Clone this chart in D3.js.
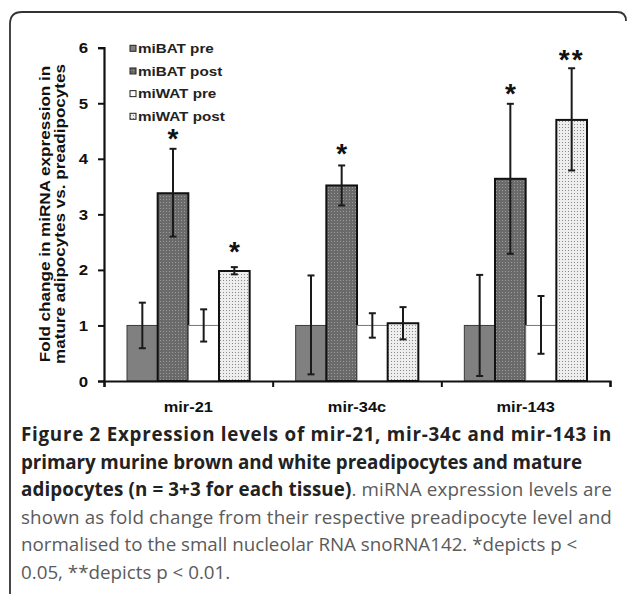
<!DOCTYPE html>
<html>
<head>
<meta charset="utf-8">
<script src="https://cdn.jsdelivr.net/npm/d3@7"></script>
<style>
  html, body { margin: 0; padding: 0; background: #fff; }
  svg { display: block; }
</style>
</head>
<body>
<svg id="chart" width="627" height="594"></svg>
<script>
// ---------------- data ----------------
const categories = ["mir-21", "mir-34c", "mir-143"];
const seriesNames = ["miBAT pre", "miBAT post", "miWAT pre", "miWAT post"];

const batPre     = [1.00, 1.00, 1.00];
const batPreLo   = [0.59, 0.12, 0.09];
const batPreHi   = [1.41, 1.90, 1.91];

const batPost    = [3.38, 3.52, 3.64];
const batPostLo  = [2.60, 3.16, 2.29];
const batPostHi  = [4.18, 3.88, 4.99];

const watPre     = [1.00, 1.00, 1.00];
const watPreLo   = [0.71, 0.78, 0.49];
const watPreHi   = [1.29, 1.22, 1.53];

const watPost    = [1.98, 1.04, 4.70];
const watPostLo  = [1.92, 0.75, 3.79];
const watPostHi  = [2.05, 1.33, 5.63];

// significance markers (per category, per series) and their heights in data units
const sigMarks  = [["", "*", "", "*"], ["", "*", "", ""], ["", "*", "", "**"]];
const sigLevels = [[0, 4.43, 0, 2.39], [0, 4.16, 0, 0], [0, 5.24, 0, 5.85]];

const yTicks = [0, 1, 2, 3, 4, 5, 6];
const yLabelLines = ["Fold change in miRNA expression in", "mature adipocytes vs. preadipocytes"];

const captionLines = [
  [{t: "Figure 2 Expression levels of mir-21, mir-34c and mir-143 in", b: true}],
  [{t: "primary murine brown and white preadipocytes and mature", b: true}],
  [{t: "adipocytes (n = 3+3 for each tissue)", b: true}, {t: ". miRNA expression levels are", b: false}],
  [{t: "shown as fold change from their respective preadipocyte level and", b: false}],
  [{t: "normalised to the small nucleolar RNA snoRNA142. *depicts p <", b: false}],
  [{t: "0.05, **depicts p < 0.01.", b: false}]
];

// ---------------- setup ----------------
const svg = d3.select("#chart");
const seriesVals = [batPre, batPost, watPre, watPost];
const seriesLo = [batPreLo, batPostLo, watPreLo, watPostLo];
const seriesHi = [batPreHi, batPostHi, watPreHi, watPostHi];

const rows = [];
categories.forEach((c, ci) => {
  seriesNames.forEach((s, si) => {
    rows.push({cat: c, ci, ser: s, si, v: seriesVals[si][ci], lo: seriesLo[si][ci], hi: seriesHi[si][ci],
               mark: sigMarks[ci][si], level: sigLevels[ci][si]});
  });
});

const plotL = 104, plotR = 610, plotT = 47.7, plotB = 381;
const x = d3.scaleBand().domain(categories).range([plotL, plotR]).padding(0);
const xs = d3.scaleBand().domain(seriesNames).range([23, x.bandwidth() - 23]).padding(0);
const xEdge = d3.scaleLinear().domain([0, categories.length]).range([plotL, plotR]);
const y = d3.scaleLinear().domain([0, 6]).range([plotB, plotT]);

const FONT = "'Liberation Sans', Arial, Helvetica, sans-serif";
function stretch(sel, k) {
  sel.each(function() {
    const w = this.getComputedTextLength();
    d3.select(this).attr("textLength", w * k).attr("lengthAdjust", "spacingAndGlyphs");
  });
}

// patterns
const defs = svg.append("defs");
const pDark = defs.append("pattern").attr("id", "pDark").attr("patternUnits", "userSpaceOnUse")
  .attr("width", 3).attr("height", 3);
pDark.append("rect").attr("width", 3).attr("height", 3).attr("fill", "#6a6a6a");
pDark.append("rect").attr("x", 1).attr("y", 1).attr("width", 1).attr("height", 1).attr("fill", "#9a9a9a");
const pLight = defs.append("pattern").attr("id", "pLight").attr("patternUnits", "userSpaceOnUse")
  .attr("width", 3).attr("height", 3);
pLight.append("rect").attr("width", 3).attr("height", 3).attr("fill", "#eeeeee");
pLight.append("rect").attr("x", 1).attr("y", 1).attr("width", 1).attr("height", 1).attr("fill", "#8a8a8a");

const fills = ["#808080", "url(#pDark)", "#ffffff", "url(#pLight)"];
const strokes = ["#3a3a3a", "#111111", "#777777", "#111111"];
const strokeW = [1, 2, 1, 2];

// frame (rounded top corners, open at bottom)
svg.append("path")
  .attr("d", "M10,594 L10,24 Q10,12 22,12 L617,12 Q626,12 626,21")
  .attr("fill", "none").attr("stroke", "#333333").attr("stroke-width", 1.8);

// bars
const g = svg.append("g");
g.selectAll("rect.bar").data(rows).enter().append("rect")
  .attr("class", "bar")
  .attr("x", d => x(d.cat) + xs(d.ser))
  .attr("y", d => y(d.v))
  .attr("width", xs.bandwidth())
  .attr("height", d => y(0) - y(d.v))
  .attr("fill", d => fills[d.si])
  .attr("stroke", d => strokes[d.si])
  .attr("stroke-width", d => strokeW[d.si]);

// error bars
const cap = 3.5;
const eb = g.selectAll("g.err").data(rows).enter().append("g").attr("class", "err")
  .attr("stroke", "#1a1a1a").attr("stroke-width", 2);
eb.append("line")
  .attr("x1", d => x(d.cat) + xs(d.ser) + xs.bandwidth() / 2)
  .attr("x2", d => x(d.cat) + xs(d.ser) + xs.bandwidth() / 2)
  .attr("y1", d => y(d.lo)).attr("y2", d => y(d.hi));
eb.append("line")
  .attr("x1", d => x(d.cat) + xs(d.ser) + xs.bandwidth() / 2 - cap)
  .attr("x2", d => x(d.cat) + xs(d.ser) + xs.bandwidth() / 2 + cap)
  .attr("y1", d => y(d.hi)).attr("y2", d => y(d.hi));
eb.append("line")
  .attr("x1", d => x(d.cat) + xs(d.ser) + xs.bandwidth() / 2 - cap)
  .attr("x2", d => x(d.cat) + xs(d.ser) + xs.bandwidth() / 2 + cap)
  .attr("y1", d => y(d.lo)).attr("y2", d => y(d.lo));

// significance stars
g.selectAll("text.sig").data(rows.filter(d => d.mark)).enter().append("text")
  .attr("class", "sig")
  .attr("x", d => x(d.cat) + xs(d.ser) + xs.bandwidth() / 2)
  .attr("y", d => y(d.level) + 13)
  .attr("text-anchor", "middle")
  .attr("font-family", FONT).attr("font-weight", "bold").attr("font-size", 28)
  .attr("letter-spacing", d => d.mark.length > 1 ? 2 : 0)
  .attr("fill", "#111")
  .text(d => d.mark);

// y axis
const yAxis = svg.append("g").attr("transform", `translate(${plotL},0)`)
  .call(d3.axisLeft(y).tickValues(yTicks).tickSize(6).tickPadding(10).tickFormat(d3.format("d")));
yAxis.select(".domain").attr("stroke", "#111").attr("stroke-width", 2.2);
yAxis.selectAll(".tick line").attr("stroke", "#111").attr("stroke-width", 2);
yAxis.selectAll(".tick text").attr("font-family", FONT).attr("font-weight", "bold")
  .attr("font-size", 14).attr("fill", "#111").attr("dy", "0.36em").call(stretch, 1.2);

// x axis (ticks at category boundaries)
const xAxis = svg.append("g").attr("transform", `translate(0,${plotB})`)
  .call(d3.axisBottom(xEdge).tickValues(d3.range(categories.length + 1)).tickSize(6).tickFormat(""));
xAxis.select(".domain").attr("stroke", "#111").attr("stroke-width", 2.2);
xAxis.selectAll(".tick line").attr("stroke", "#111").attr("stroke-width", 2);

// category labels
svg.selectAll("text.cat").data(categories).enter().append("text")
  .attr("class", "cat")
  .attr("x", d => x(d) + x.bandwidth() / 2)
  .attr("y", 412)
  .attr("text-anchor", "middle")
  .attr("font-family", FONT).attr("font-weight", "bold").attr("font-size", 14)
  .attr("fill", "#111")
  .text(d => d)
  .call(stretch, 1.17);

// y label
svg.selectAll("text.ylab").data(yLabelLines).enter().append("text")
  .attr("class", "ylab")
  .attr("transform", (d, i) => `translate(${49.5 + i * 15.5},214) rotate(-90)`)
  .attr("text-anchor", "middle")
  .attr("font-family", FONT).attr("font-weight", "bold").attr("font-size", 14)
  .attr("fill", "#111")
  .text(d => d)
  .call(stretch, 1.22);

// legend
const leg = svg.append("g");
const legY = d3.scalePoint().domain(seriesNames).range([48.3, 116.3]);
leg.selectAll("rect").data(seriesNames).enter().append("rect")
  .attr("x", 130).attr("y", d => legY(d) - 3).attr("width", 6).attr("height", 6)
  .attr("fill", (d, i) => fills[i]).attr("stroke", "#222").attr("stroke-width", 1);
leg.selectAll("text").data(seriesNames).enter().append("text")
  .attr("x", 138).attr("y", d => legY(d) + 4.6)
  .attr("font-family", FONT).attr("font-weight", "bold").attr("font-size", 13)
  .attr("fill", "#222")
  .text(d => d)
  .call(stretch, 1.17);

// caption
const CAPFONT = "'Open Sans', 'Noto Sans', sans-serif";
const capTargets = [612, 582, 612, 612, 536, 272];
// font size derived so that the two ragged (unjustified) last lines fit their widths
const probe = svg.append("text").attr("font-family", CAPFONT).attr("font-size", 16)
  .text(captionLines[4][0].t + captionLines[5][0].t);
const probeW = probe.node().getComputedTextLength();
probe.remove();
const capSize = 16 * ((capTargets[4] - 21) + (capTargets[5] - 21)) / probeW;
captionLines.forEach((parts, li) => {
  const t = svg.append("text")
    .attr("x", 21).attr("y", 441 + li * 27.6)
    .attr("font-family", CAPFONT).attr("font-size", capSize);
  parts.forEach(p => {
    t.append("tspan").text(p.t)
      .attr("font-weight", p.b ? "bold" : "normal")
      .attr("fill", p.b ? "#222" : "#5a5a5a");
  });
  if (li < 4) {
    const w = t.node().getComputedTextLength();
    const n = parts.reduce((a, p) => a + p.t.length, 0);
    const target = capTargets[li] - 21;
    t.attr("letter-spacing", (target - w) / n);
  }
});
</script>
</body>
</html>
